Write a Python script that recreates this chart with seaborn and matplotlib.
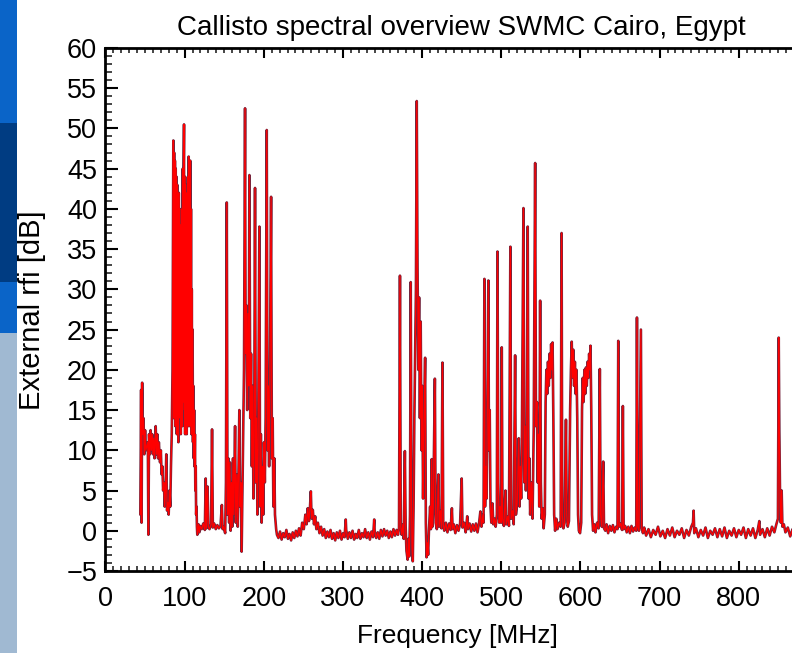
import numpy as np
import pandas as pd
import matplotlib
matplotlib.use("Agg")
import matplotlib.pyplot as plt
from matplotlib.patches import Rectangle
from matplotlib.ticker import MultipleLocator
import seaborn as sns

# --- 1. DATA (read off the Callisto overview, MHz / dB) ---
# low VHF, 44-86 MHz
low_freq = [44, 45, 45.6, 46.3, 47, 48, 49, 50, 51, 53.5,
            54.2, 55, 56, 57, 58, 59, 60, 61, 62, 63.4,
            64.4, 65.4, 66.4, 67.4, 68.9, 69.9, 70.9, 71.9, 72.8, 73.8,
            74.8, 75.8, 76.8, 77.8, 78.8, 79.8, 80.8, 81.8, 82.7, 83.7,
            84.7, 85.7]
low_db = [2.0, 17.5, 1.0, 18.4, 12, 14, 9.5, 12.5, 10, 11,
          -0.5, 12, 9.5, 12.5, 10, 12, 9.5, 11.5, 9, 13,
          9.5, 12, 9, 11, 8.5, 10, 7, 8, 5, 6,
          3, 5, 9.5, 2.5, 3.5, 2, 5, 3, 8, 12,
          20, 48.5]

# FM broadcast band
fm_freq = [86.2, 86.7, 87.2, 87.7, 88.2, 88.7, 89.2, 89.6, 90.1, 90.6,
           91.1, 91.6, 92.1, 92.6, 93.1, 93.6, 94.1, 94.6, 95.1, 95.6,
           96.1, 96.6, 97.1, 97.6, 98.1, 98.6, 99.2, 99.6, 100.1, 100.6,
           101.1, 101.6, 102.1, 102.6, 103.1, 103.6, 104.1, 104.6, 105.1, 105.6,
           106.1, 106.6, 107, 107.5, 108, 108.5, 109, 109.5, 110, 110.5,
           111, 111.5, 112, 112.5, 113, 113.5, 114, 114.5, 115, 115.5,
           116]
fm_db = [14, 47, 16, 46, 13, 45, 18, 44, 12, 43,
         20, 41, 11, 42, 17, 40, 14, 38, 12, 36,
         19, 40, 13, 45, 16, 44, 50.5, 15, 44, 12,
         43, 18, 41, 12, 42, 16, 44, 13, 46.5, 17,
         45, 13, 46, 15, 40, 12, 30, 14, 25, 11,
         18, 9, 15, 8, 12, 5, 8, 2, 3, 0.5,
         -0.5]

# airband + VHF TV
air_freq = [117.5, 118.5, 119.5, 121.5, 123.5, 125.5, 126.6, 127.4, 128.9, 129.9,
            131.4, 133.4, 134.6, 135.6, 137.3, 139.3, 141.3, 143.3, 145.3, 147,
            148, 149.2, 151.2, 152.2, 153.2, 154.2, 155.2, 156.2, 157.1, 158.1,
            159.1, 160.1, 161.1, 162.1, 163.7, 164.6, 166.1, 167.1, 169.1, 170,
            171, 172, 173, 174, 175, 176.3, 177, 178, 179, 180,
            181, 181.8, 182.9, 183.9, 184.9, 185.9, 186.9, 187.9, 188.9, 189.9,
            190.9, 191.9, 192.8, 194.4, 195.3, 196.3, 197.3, 198.3, 199.3, 200.3,
            201.3, 202.3, 203.7, 204.7, 205.7, 206.7, 207.7, 209.2, 210.2, 211.2,
            212.1, 213.3, 214.1, 215.6, 216.6]
air_db = [0.8, -0.2, 0.6, 0.2, 0.9, 0.1, 6.5, 0.3, 5.5, 0.5,
          0.2, 0.8, 12.6, 0.4, 0.9, 0.2, 0.7, 0.3, 0.6, 3.2,
          0.2, 0.5, -0.3, 6, 40.8, 2, 9, 1, 8.5, 0,
          6, 0.5, 9, 2, 13, 1, 7, 0.5, 15, 3,
          6, -2.6, 5, 12, 20, 52.5, 22, 28, 15, 27,
          18, 44.2, 14, 22, 8, 18, 4, 12, 42.6, 6,
          14, 2, 10, 37.8, 3, 12, 1, 8, 2, 11,
          6, 14, 49.8, 10, 18, 8, 19, 41.5, 9, 14,
          3, 9, 2, 0.2, -0.5]

# quiet stretch 218-370 MHz
quiet1_freq = [218.5, 220.5, 222.5, 224.5, 226.5, 228.5, 230.5, 232.5, 234.5, 236.5,
               238.5, 240.5, 242.5, 244.5, 246.5, 248.5, 250.5, 252.5, 254, 255.5,
               257, 258.4, 259.4, 260.4, 261.9, 263.4, 264.9, 266.4, 268.3, 270.3,
               272.3, 274.3, 276.3, 278.3, 280.3, 282.3, 284.3, 286.2, 288.2, 290.2,
               292.2, 294.2, 296.2, 298.2, 300.2, 302.1, 303.5, 304.1, 306.1, 308.1,
               310.1, 312.1, 314.1, 316, 318, 320, 322, 324, 326, 328,
               330, 332, 334, 336, 338, 339.5, 340, 342, 344, 345.9,
               347.9, 349.9, 351.9, 353.9, 355.9, 357.9, 359.9, 361.8, 363.8, 365.8,
               367.8, 369.5]
quiet1_db = [-0.9, -0.1, -1.1, -0.3, -0.8, 0.1, -1.0, -0.4, -1.2, -0.2,
             -0.9, 0.0, -0.7, 0.3, -0.6, 1.0, 0.2, 2.0, 0.8, 2.8,
             1.2, 3.0, 4.9, 1.5, 2.6, 0.8, 1.8, 0.2, 1.0, -0.3,
             0.5, -0.6, 0.2, -0.9, -0.1, -0.8, 0.1, -1.0, -0.3, -1.2,
             -0.2, -0.9, 0.0, -1.1, -0.3, -0.8, 1.4, 0.1, -1.0, -0.2,
             -0.9, 0.0, -1.1, -0.4, -0.9, 0.1, -1.0, -0.3, -0.8, 0.2,
             -0.9, -0.2, -1.1, -0.1, -0.8, 1.4, 0.0, -0.9, -0.2, -1.0,
             0.1, -0.7, 0.2, -0.6, 0.0, -0.9, -0.1, -0.8, 0.2, -0.6,
             0.1, -0.5]

# UHF part 1, 370-477 MHz
uhf1_freq = [370.8, 372, 373, 374.2, 375.7, 376.7, 378.2, 379.2, 380.2, 381.7,
             382.7, 383.7, 384.7, 385.6, 386.5, 387.2, 388.2, 389.2, 390.2, 391.2,
             392.2, 393.2, 394.2, 395.2, 396.2, 397.2, 398.2, 399.2, 400.2, 401.2,
             402.2, 403.8, 404.7, 405.6, 406.6, 407.6, 408.6, 410.1, 411.1, 412.1,
             413.1, 414.1, 416.1, 417.1, 418.6, 420.6, 421.5, 423, 424.5, 425.7,
             426.7, 428, 430, 432, 434, 436, 437.6, 438.6, 440, 442,
             444, 446, 448, 450, 451, 453, 455, 457, 458, 460,
             462, 464, 466, 468, 470, 472, 473.6, 475, 477]
uhf1_db = [0.3, 31.7, 0.5, -0.5, 0.8, -1, 9.9, 0.5, -2.5, -3.6,
           -1.0, -3.2, 2, 30.9, 5, -2, -3.8, 3, 14, 22,
           30, 53.4, 32.8, 20, 29, 14, 26, 10, 18, 4,
           12, 21.5, 1, -3.3, -1.5, -3.0, 0, 3, 0.2, 8.9,
           0.5, 3, 18.9, 1, 0.2, 7, 0.5, 2.5, 0.3, 20.9,
           0.8, 0.0, 1.0, -0.2, 0.9, 0.1, 2.8, 0.2, 0.8, -0.3,
           0.7, 0.0, 0.9, 6.5, 0.4, 1.0, -0.2, 1.8, 0.2, 0.9,
           -0.1, 0.8, 0.0, 0.9, -0.2, 1.0, 2.4, 0.5, 2.0]

# UHF part 2, 477-680 MHz (TV channels)
uhf2_freq = [477.6, 478.7, 479.5, 480.5, 481.5, 482.5, 483.7, 484.4, 485.4, 486.4,
             487.4, 488.9, 489.9, 491.4, 492.9, 494.4, 495.2, 496.2, 497.4, 498.4,
             499.9, 500.6, 501.6, 503.3, 505.3, 506.3, 508.3, 509.7, 511.5, 512.5,
             514.2, 515.7, 517.5, 518.5, 520.1, 522.1, 523.1, 524.1, 525.1, 526.1,
             528, 529.1, 530.1, 531.1, 532.1, 533.4, 534.5, 535.5, 536.5, 538,
             539.5, 541, 542.8, 543.8, 545, 546, 547, 548, 549.1, 550,
             551, 552.5, 553.5, 555, 556, 557, 558, 559, 560, 561,
             562, 563, 564, 564.8, 565.8, 566.8, 568, 569.5, 571, 573,
             575, 576.2, 577, 578.5, 580, 581.7, 582.7, 584, 585.5, 587,
             588, 589, 590, 591, 592, 593, 594, 595, 596, 597,
             598, 599.5, 601, 602, 603, 604, 605, 606, 607, 608,
             609, 610, 611, 612, 612.7, 613.7, 614.7, 616, 617.5, 619,
             621, 623, 624.5, 625.5, 627, 628.8, 629.8, 631.5, 633, 635,
             637, 639, 641, 643, 645, 646.8, 647.8, 648.8, 650.5, 652.6,
             653.6, 654.6, 656.5, 658.5, 660.5, 662.5, 664.5, 666.5, 668.5, 670.5,
             671.4, 672.4, 674, 676.4, 677.4, 679]
uhf2_db = [1, 31.3, 3, 8, 4, 17, 31.1, 10, 15, 3,
           1, 3.4, 0.8, 1.5, 0.5, 2, 34.7, 6, 1, 3,
           1, 22.8, 1.5, 0.6, 5, 0.8, 1.8, 0.6, 35.3, 1.5,
           2.5, 0.8, 21.8, 2, 3.5, 11.5, 3, 8, 4, 12,
           40.1, 6, 13, 5, 10, 37.8, 4, 9, 2, 6,
           1.5, 12.8, 45.7, 13, 16, 6, 12, 3, 28.6, 6,
           1.5, 2.8, 0.3, 2, 16, 20, 17, 21, 18, 22,
           19, 23.2, 20, 23.4, 14, 2, 0, 1.5, 0.2, 1.0,
           0.5, 37, 2, 0.3, 1, 13.8, 2, 0.5, 1.2, 15,
           20, 23.5, 19, 22.5, 18, 21, 17, 20, 14, 2,
           0, -0.3, 1, 15, 19, 16, 20, 17, 20.3, 18,
           21, 19, 22, 20, 23, 15, 2, 0, 0.8, -0.2,
           1, 0.3, 20.1, 2, 0.5, 8.6, 0.3, 0.0, 0.8, -0.3,
           0.6, 0.0, 0.7, -0.2, 0.5, 0.2, 23.6, 0.5, 0.9, 0.1,
           15.5, 0.2, 0.6, -0.2, 0.5, -0.3, 0.6, -0.1, 0.4, 0.0,
           26.5, 0.5, 0.0, 25, 0.3, -0.3]

# quiet stretch above 680 MHz
quiet2_freq = [680.5, 683, 686, 689, 692, 695, 698, 701, 704, 707,
               710, 713, 716, 719, 722, 725, 728, 731, 734, 737,
               740, 742.2, 743, 743.8, 746, 749, 752, 755, 758, 761,
               764, 767, 770, 773, 776, 779, 782, 785, 788, 791,
               794, 797, 800, 803, 806, 809, 812, 815, 818, 821,
               824, 826, 827, 830, 833, 836, 839, 842, 845, 847.5,
               849.5, 850.5, 851.3, 852.3, 853.2, 854.2, 855.2, 857, 859, 862,
               865, 868, 871, 874, 877, 880]
quiet2_db = [0.4, -0.6, 0.2, -0.8, 0.1, -0.5, 0.5, -0.7, 0.0, -0.9,
             0.2, -0.6, 0.4, -0.8, 0.0, -0.5, 0.3, -0.9, 0.1, -0.6,
             0.5, 1.0, 2.5, -0.3, 0.3, -0.8, 0.1, -0.6, 0.4, -0.9,
             0.0, -0.5, 0.3, -0.8, 0.2, -0.7, 0.4, -0.9, 0.0, -0.6,
             0.3, -0.8, 0.1, -0.5, 0.4, -0.9, 0.2, -0.6, 0.3, -0.9,
             0.1, 1.2, -0.5, 0.2, -0.8, 0.3, -0.6, 0.5, -0.2, 0.8,
             1.5, 24, 12.5, 3, 1, 5, 0.5, 0.8, -0.2, 0.4,
             -0.7, 0.2, -0.6, 0.3, -0.5, 0.2]

freq_parts = [low_freq, fm_freq, air_freq, quiet1_freq, uhf1_freq, uhf2_freq, quiet2_freq]
db_parts = [low_db, fm_db, air_db, quiet1_db, uhf1_db, uhf2_db, quiet2_db]
df = pd.DataFrame({"Frequency": np.concatenate(freq_parts),
                   "RFI": np.concatenate(db_parts)})

x_ticks = [0, 100, 200, 300, 400, 500, 600, 700, 800]

# --- 2. STYLE ---
sns.set_style("white")
plt.rcParams["font.family"] = ["Liberation Sans", "DejaVu Sans"]

fig = plt.figure(figsize=(7.92, 6.53), dpi=100)
fig.patch.set_facecolor("white")

# slide background strip on the left edge
strip = [(0.0, 0.490, "#a0b9d2"), (0.490, 0.078, "#0a64c8"),
         (0.568, 0.244, "#003c82"), (0.812, 0.188, "#0a64c8")]
for y0, h, c in strip:
    fig.patches.append(Rectangle((0, y0), 0.0215, h, transform=fig.transFigure,
                                 facecolor=c, edgecolor="none", zorder=0))

ax = fig.add_axes([0.1332, 0.1256, 0.8995, 0.801])
ax.set_facecolor("white")

# --- 3. PLOT ---
# dark halo first, bright red trace on top (gives the maroon edges of thin spikes)
sns.lineplot(data=df, x="Frequency", y="RFI", sort=False, estimator=None,
             color="#74263e", lw=1.9, ax=ax)
sns.lineplot(data=df, x="Frequency", y="RFI", sort=False, estimator=None,
             color="#ff0000", lw=0.9, ax=ax)

ax.set_xlim(0, 900)
ax.set_ylim(-5, 60)
ax.set_xticks(x_ticks)
ax.set_xticklabels([str(t) for t in x_ticks])
ax.xaxis.set_minor_locator(MultipleLocator(10))
ax.yaxis.set_major_locator(MultipleLocator(5))
ax.yaxis.set_minor_locator(MultipleLocator(1))

for side in ["left", "bottom", "top"]:
    ax.spines[side].set_color("black")
    ax.spines[side].set_linewidth(2.0)
ax.spines["right"].set_visible(False)

ax.tick_params(axis="x", which="major", direction="in", top=True, bottom=True,
               length=7.2, width=1.5, pad=11, labelsize=19.5, colors="black")
ax.tick_params(axis="x", which="minor", direction="in", top=True, bottom=True,
               length=3.6, width=1.2)
ax.tick_params(axis="y", which="major", direction="in", left=True, right=False,
               length=9.4, width=1.5, pad=6, labelsize=19.5, colors="black")
ax.tick_params(axis="y", which="minor", direction="in", left=True, right=False,
               length=5, width=1.2)
ax.set_yticklabels([f"{int(v)}".replace("-", "\u2212") for v in ax.get_yticks()])

ax.set_xlabel("")
ax.set_ylabel("")
fig.text(0.583, 0.9464, "Callisto spectral overview SWMC Cairo, Egypt",
         ha="center", va="baseline", fontsize=20, color="black")
fig.text(0.578, 0.0153, "Frequency [MHz]", ha="center", va="baseline",
         fontsize=19, color="black")
fig.text(0.041, 0.525, "External rfi [dB]", ha="center", va="center",
         rotation=90, fontsize=21, color="black")

fig.savefig("out.png", dpi=100)
plt.close(fig)
